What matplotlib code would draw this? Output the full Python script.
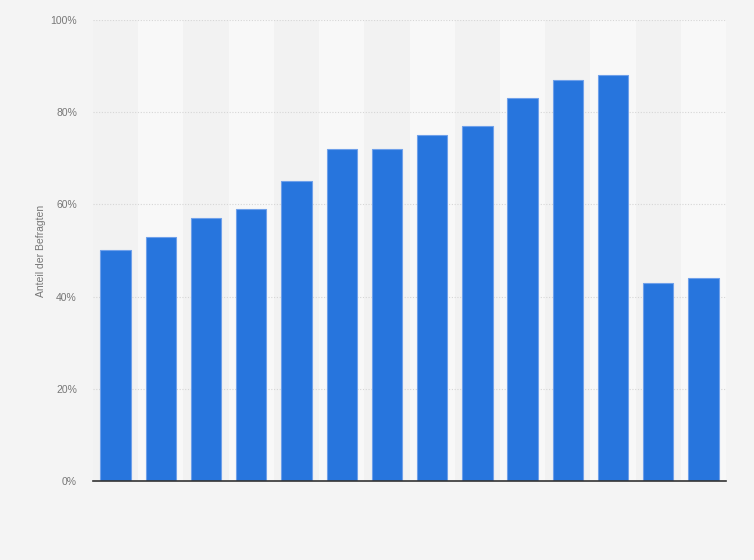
import matplotlib
matplotlib.use("Agg")
import matplotlib.pyplot as plt
from matplotlib.ticker import PercentFormatter

plt.rcParams["font.family"] = ["Liberation Sans", "DejaVu Sans"]

# Share of respondents per category (14 categories, no labels shown)
categories = list(range(14))
values = [50, 53, 57, 59, 65, 72, 72, 75, 77, 83, 87, 88, 43, 44]
y_ticks = [0, 20, 40, 60, 80, 100]

fig = plt.figure(figsize=(7.54, 5.6), dpi=100, facecolor="#f4f4f4")
ax = fig.add_axes([0.1233, 0.1411, 0.963 - 0.1233, 0.9643 - 0.1411])
ax.set_facecolor("#f2f2f2")

# alternating column bands
for i in categories:
    if i % 2 == 1:
        ax.axvspan(i - 0.5, i + 0.5, color="#f8f8f8", zorder=0, lw=0)

ax.bar(categories, values, width=0.67, color="#2775dd",
       edgecolor="#6fa0ea", linewidth=0.8, zorder=3)

ax.set_xlim(-0.5, len(categories) - 0.5)
ax.set_ylim(0, 100)
ax.set_yticks(y_ticks)
ax.yaxis.set_major_formatter(PercentFormatter(decimals=0))
ax.set_xticks([])
ax.grid(axis="y", color="#d6d6d6", linestyle=(0, (1, 1.5)), linewidth=0.8, zorder=1)

for s in ["top", "right", "left"]:
    ax.spines[s].set_visible(False)
ax.spines["bottom"].set_color("#333333")
ax.spines["bottom"].set_linewidth(1.2)
ax.spines["bottom"].set_zorder(4)

ax.tick_params(axis="y", length=0, pad=11.5, labelsize=7.5, labelcolor="#777777")
ax.set_ylabel("Anteil der Befragten", fontsize=7.5, color="#777777", labelpad=3)

fig.savefig("out.png", dpi=100, facecolor=fig.get_facecolor())
